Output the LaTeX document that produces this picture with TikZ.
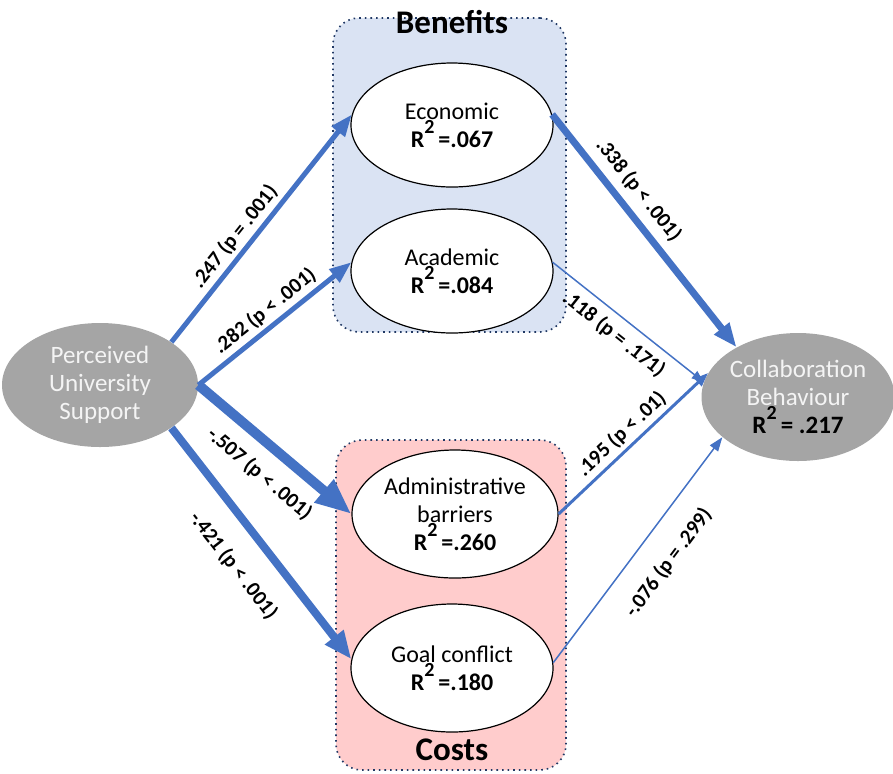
\documentclass[tikz,border=0pt]{standalone}
\usepackage{fontspec}
\setmainfont{Carlito}
\usetikzlibrary{positioning,shapes.geometric,arrows.meta}
\definecolor{flecha}{HTML}{4472C4}
\definecolor{borde}{HTML}{203864}
\definecolor{beneficio}{HTML}{DAE3F3}
\definecolor{costo}{HTML}{FFCCCC}
\definecolor{gris}{HTML}{A5A5A5}
\definecolor{textogris}{HTML}{F4F4F4}
\newcommand{\rdos}[1]{\textbf{R\raisebox{1.15ex}{\fontsize{10}{10}\selectfont 2}\,#1}}
\tikzset{
  grupo/.style={draw=borde, dotted, line width=0.8pt, rounded corners=13pt},
  titulo/.style={font=\bfseries\fontsize{16.5}{18}\selectfont},
  factor/.style={ellipse, draw, fill=white, line width=0.6pt, minimum width=101pt, minimum height=62pt, inner sep=0pt, align=center, font=\fontsize{12}{14}\selectfont},
  extremo/.style={ellipse, fill=gris, text=textogris, minimum width=98pt, minimum height=62pt, inner sep=0pt, align=center, font=\fontsize{12.5}{14}\selectfont},
  camino/.style={draw=flecha, line width=#1},
  coef/.style={font=\bfseries\fontsize{10.5}{12}\selectfont, sloped, inner sep=2pt},
}

\begin{document}
\begin{tikzpicture}[x=0.5pt, y=-0.5pt]
  \useasboundingbox (0,0) rectangle (893,773);
  % grupos
  \node[grupo, fill=beneficio, minimum width=116.5pt, minimum height=157pt] (beneficios) at (449.5,175) {};
  \node[grupo, fill=costo, minimum width=115pt, minimum height=165pt] (costos) at (451,605) {};
  \node[titulo] (tben) at (452,22) {Benefits};
  \node[titulo] (tcos) at (452,750) {Costs};
  % variables
  \node[extremo] (apoyo) at (100,385) {Perceived\\University\\Support};
  \node[extremo, minimum width=96pt, minimum height=64pt] (colab) at (798,397) {Collaboration\\Behaviour\\{\color{black}\rdos{= .217}}};
  \node[factor] (econ) at (452,125) {Economic\\\rdos{=.067}};
  \node[factor] (acad) at (452,271) {Academic\\\rdos{=.084}};
  \node[factor, minimum width=103pt, minimum height=64pt] (admin) at (455,514) {Administrative\\barriers\\\rdos{=.260}};
  \node[factor, minimum height=64pt] (meta) at (452,668) {Goal conflict\\\rdos{=.180}};
  % caminos
  \draw[camino=2.5pt, -{Triangle[length=11pt,width=8pt]}] (apoyo.31) -- (econ.174)
    node[coef, above, pos=0.42] {.247 (p = .001)};
  \draw[camino=2.5pt, -{Triangle[length=11pt,width=8pt]}] (apoyo.east) -- (acad.175)
    node[coef, above, pos=0.5] {.282 (p < .001)};
  \draw[camino=5pt, -{Triangle[length=18pt,width=14pt]}] (apoyo.east) -- (admin.180)
    node[coef, below=5pt, pos=0.52] {-.507 (p < .001)};
  \draw[camino=4pt, -{Triangle[length=14pt,width=11pt]}] (apoyo.-31) -- (meta.175)
    node[coef, below=9pt, pos=0.5] {-.421 (p < .001)};
  \draw[camino=3.5pt, -{Triangle[length=12pt,width=9pt]}] (econ.6) -- (colab.141)
    node[coef, above=2pt, pos=0.38] {.338 (p < .001)};
  \draw[camino=0.75pt, -{Triangle[length=6pt,width=4.5pt]}] (acad.5) -- (colab.171)
    node[coef, below=2pt, pos=0.48] {.118 (p = .171)};
  \draw[camino=1.5pt, -{Triangle[length=7pt,width=5pt]}] (admin.east) -- (colab.165)
    node[coef, above, pos=0.49] {.195 (p < .01)};
  \draw[camino=0.75pt, -{Triangle[length=7pt,width=5pt]}] (meta.3) -- (colab.208)
    node[coef, below=9pt, pos=0.53] {-.076 (p = .299)};
\end{tikzpicture}
\end{document}
